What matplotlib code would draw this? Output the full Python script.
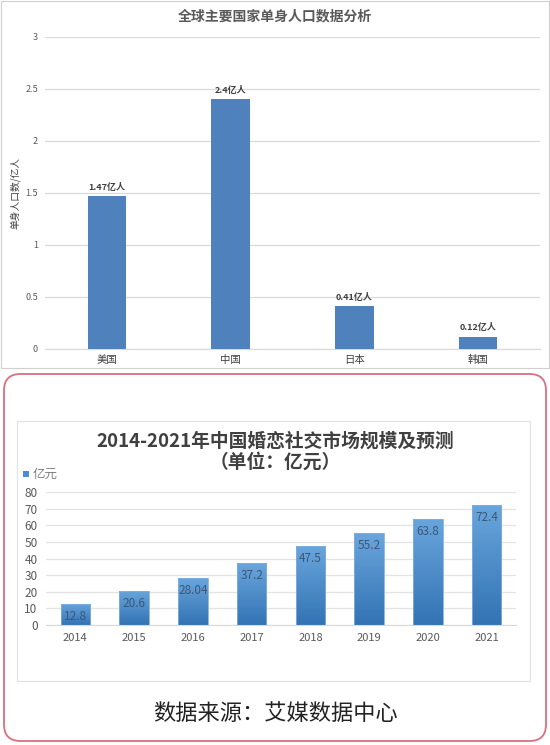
import matplotlib
matplotlib.use('Agg')
import matplotlib.pyplot as plt
from matplotlib.patches import FancyBboxPatch, Rectangle
import numpy as np

plt.rcParams['font.family'] = ['Noto Sans CJK SC', 'DejaVu Sans']

# 上图：单身人口
countries = ['美国', '中国', '日本', '韩国']
single_pop = [1.47, 2.4, 0.41, 0.12]
pop_labels = ['1.47亿人', '2.4亿人', '0.41亿人', '0.12亿人']
pop_ticks = [0, 0.5, 1, 1.5, 2, 2.5, 3]
pop_tick_labels = ['0', '0.5', '1', '1.5', '2', '2.5', '3']

# 下图：婚恋社交市场规模
years = ['2014', '2015', '2016', '2017', '2018', '2019', '2020', '2021']
market = [12.8, 20.6, 28.04, 37.2, 47.5, 55.2, 63.8, 72.4]
market_labels = ['12.8', '20.6', '28.04', '37.2', '47.5', '55.2', '63.8', '72.4']
market_ticks = [0, 10, 20, 30, 40, 50, 60, 70, 80]

W, H = 550, 745


def fx(px):
    return px / W


def fy(py):
    return 1 - py / H


fig = plt.figure(figsize=(5.5, 7.45), dpi=100)

# 外框
fig.patches.append(Rectangle((fx(0.5), fy(368)), fx(548), 367 / H, transform=fig.transFigure,
                             fill=False, edgecolor='#d0d0d0', linewidth=0.8))
fig.patches.append(FancyBboxPatch((fx(4), fy(741)), fx(542), 367 / H,
                                  boxstyle='round,pad=0,rounding_size=0.03',
                                  transform=fig.transFigure, fill=False,
                                  edgecolor='#d9707f', linewidth=1.3,
                                  mutation_aspect=W / H))
fig.patches.append(Rectangle((fx(17), fy(681)), fx(513), 260 / H, transform=fig.transFigure,
                             fill=False, edgecolor='#e2e2e2', linewidth=0.9))

# ---- 上图 ----
ax1 = fig.add_axes([fx(45), fy(349), fx(495), 312 / H])
x1 = np.arange(len(countries))
ax1.bar(x1, single_pop, width=0.31, color='#4f81bd', zorder=3)
for xi, v, lab in zip(x1, single_pop, pop_labels):
    ax1.annotate(lab, (xi, v), xytext=(0, 3), textcoords='offset points',
                 ha='center', va='bottom', fontsize=6.5, fontweight='bold', color='#404040')
ax1.set_xlim(-0.5, len(countries) - 0.5)
ax1.set_ylim(0, 3)
ax1.set_yticks(pop_ticks)
ax1.set_yticklabels(pop_tick_labels)
ax1.set_xticks(x1)
ax1.set_xticklabels(countries)
ax1.tick_params(axis='y', length=0, labelsize=6.5, labelcolor='#595959', pad=5)
ax1.tick_params(axis='x', length=0, labelsize=7.5, labelcolor='#404040', pad=4)
ax1.grid(axis='y', color='#d9d9d9', linewidth=0.9, zorder=0)
for s in ['top', 'right', 'left']:
    ax1.spines[s].set_visible(False)
ax1.spines['bottom'].set_color('#d9d9d9')
fig.text(fx(275), fy(16), '全球主要国家单身人口数据分析', ha='center', va='center',
         fontsize=10, fontweight='bold', color='#595959')
fig.text(fx(15), fy(193), '单身人口数/亿人', ha='center', va='center', rotation=90,
         fontsize=7, color='#404040')

# ---- 下图 ----
ax2 = fig.add_axes([fx(46), fy(625), fx(470), 133 / H])
x2 = np.arange(len(years))
bars = ax2.bar(x2, market, width=0.5, color='none', edgecolor='#7fb0e0', linewidth=0.6, zorder=3)
grad = np.linspace(0, 1, 256).reshape(-1, 1)
cmap = matplotlib.colors.LinearSegmentedColormap.from_list('blu', ['#3373b4', '#6aa6dd'])
for b in bars:
    im = ax2.imshow(grad, extent=(b.get_x(), b.get_x() + b.get_width(), 0, b.get_height()),
                    cmap=cmap, aspect='auto', zorder=2, origin='lower')
    im.set_clip_path(b)
for xi, v, lab in zip(x2, market, market_labels):
    ax2.annotate(lab, (xi, v), xytext=(0, -9), textcoords='offset points',
                 ha='center', va='center', fontsize=8.5, color='#3b5878', zorder=4)
ax2.set_xlim(-0.5, len(years) - 0.5)
ax2.set_ylim(0, 80)
ax2.set_yticks(market_ticks)
ax2.set_xticks(x2)
ax2.set_xticklabels(years)
ax2.tick_params(axis='y', length=0, labelsize=8.5, labelcolor='#595959', pad=6)
ax2.tick_params(axis='x', length=0, labelsize=8, labelcolor='#595959', pad=6)
ax2.grid(axis='y', color='#e3e3e3', linewidth=0.9, zorder=0)
for s in ['top', 'right', 'left']:
    ax2.spines[s].set_visible(False)
ax2.spines['bottom'].set_color('#d9d9d9')

fig.text(fx(275), fy(441), '2014-2021年中国婚恋社交市场规模及预测', ha='center', va='center',
         fontsize=13.5, fontweight='bold', color='#404040')
fig.text(fx(275), fy(462), '（单位：亿元）', ha='center', va='center',
         fontsize=13.5, fontweight='bold', color='#404040')
fig.patches.append(Rectangle((fx(23), fy(477)), fx(6), 6 / H, transform=fig.transFigure,
                             facecolor='#4f8ccf', edgecolor='none'))
fig.text(fx(33), fy(474), '亿元', ha='left', va='center', fontsize=9, color='#7f7f7f')

fig.text(fx(275), fy(713), '数据来源：艾媒数据中心', ha='center', va='center',
         fontsize=16, color='#222222')

fig.savefig('out.png', dpi=100)
